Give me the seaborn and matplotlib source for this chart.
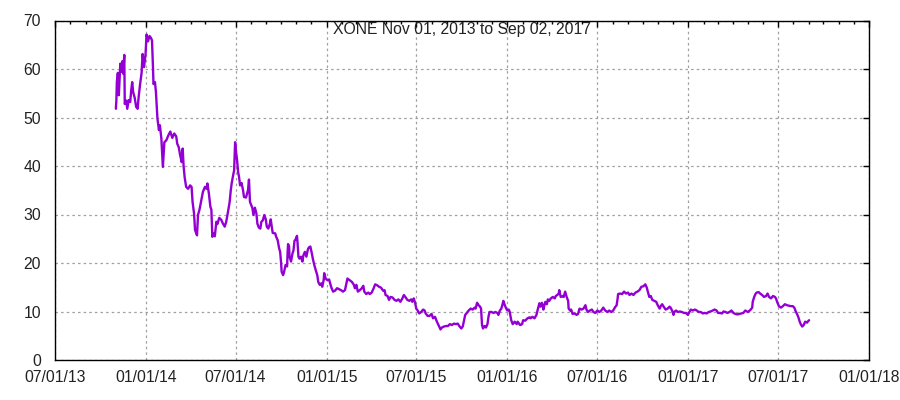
import pandas as pd
import seaborn as sns
import matplotlib.pyplot as plt
import matplotlib.dates as mdates
from matplotlib.ticker import MultipleLocator

# days counted from 07/01/2013 (left edge of the chart) and closing prices
day_offset = [
    123, 124, 125, 127, 129, 132, 134, 136, 138, 140, 141, 144, 146, 149, 152, 154, 156, 158, 161, 164,
    167, 169, 172, 175, 177, 180, 183, 185, 188, 191, 194, 196, 198, 199, 202, 204, 207, 210, 212, 215,
    218, 221, 225, 229, 233, 237, 241, 245, 247, 250, 253, 256, 258, 260, 262, 265, 269, 273, 276, 278,
    281, 283, 287, 289, 292, 295, 299, 303, 306, 308, 311, 314, 316, 318, 320, 323, 326, 328, 332, 336,
    339, 343, 346, 349, 353, 355, 357, 360, 362, 364, 366, 368, 370, 372, 374, 377, 380, 382, 386, 390,
    392, 394,
    399, 401, 404, 407, 409, 412, 415, 417, 420, 423, 426, 428, 431, 434, 436, 438, 440, 445, 447, 450,
    453, 455, 457, 458, 461, 463, 466, 469, 470, 471, 473, 474, 477, 480, 482, 484, 486, 489, 490, 492,
    494, 497, 500, 502, 505, 508, 511, 513, 516, 519, 521, 524, 527, 530, 532, 535, 538, 540, 543, 544,
    547, 550, 554, 556, 559, 562, 566, 570, 574, 578, 582, 586, 589, 591, 595, 600, 604, 606, 609, 612,
    616, 620, 623, 625, 629, 633, 636,
    640, 644, 647, 651, 655, 659, 663, 666, 668, 672, 675, 678, 682, 686, 690, 694, 698, 702, 705, 708,
    712, 716, 720, 722, 725, 728, 730, 733, 736, 740, 744, 747, 749, 753, 757, 761, 764, 768, 771, 774,
    776, 779, 782, 786, 790, 794, 798, 802, 806, 810, 814, 817, 821, 824, 826, 829, 832, 836, 840, 844,
    848, 850, 853, 856, 859, 861, 863, 865, 868, 871, 874, 876, 878, 882, 886, 890, 894, 896, 899, 902,
    905, 906, 909, 911, 914, 917, 919, 922, 925, 929, 933, 935, 940, 944, 946, 950, 955, 959,
    961, 965, 969, 973, 976, 979, 981, 984, 987, 989, 991, 994, 996, 999, 1002, 1006, 1010, 1012, 1015, 1018,
    1019, 1022, 1026, 1028, 1031, 1034, 1037, 1038, 1041, 1043, 1046, 1050, 1054, 1057, 1060, 1064, 1068, 1072, 1074, 1077,
    1081, 1085, 1088, 1092, 1096, 1100, 1104, 1108, 1112, 1116, 1120, 1124, 1128, 1132, 1135, 1137, 1138, 1142, 1146, 1150,
    1154, 1158, 1161, 1165, 1169, 1173, 1177, 1181, 1185, 1189, 1193, 1196, 1198, 1201, 1204, 1207, 1211, 1215, 1218, 1222,
    1224, 1227, 1230, 1234, 1238, 1242, 1244, 1247, 1250, 1251, 1255, 1259, 1263, 1267, 1271, 1275, 1279, 1282, 1285, 1289,
    1293, 1297, 1301,
    1305, 1309, 1313, 1317, 1321, 1325, 1329, 1333, 1337, 1340, 1344, 1348, 1351, 1355, 1359, 1363, 1367, 1371, 1375, 1379,
    1383, 1387, 1391, 1395, 1400, 1404, 1406, 1409, 1410, 1413, 1416, 1418, 1422, 1425, 1429, 1433, 1437, 1440, 1443, 1447,
    1451, 1455, 1457, 1460, 1463, 1467, 1471, 1475, 1479, 1483, 1487, 1491, 1494, 1497, 1499, 1502, 1505, 1507, 1510, 1513,
    1516, 1520, 1521, 1524,
]

close = [
    51.8, 53.5, 57.3, 59.2, 54.6, 61.1, 59.4, 61.6, 59.0, 62.9, 52.8, 53.5, 51.8, 53.6, 53.2, 55.6, 57.3, 55.2, 54.1, 52.2,
    51.8, 54.2, 56.9, 59.2, 63.1, 60.4, 63.1, 67.1, 65.7, 66.8, 66.4, 65.9, 60.4, 56.9, 57.3, 55.2, 49.8, 47.4, 48.4, 45.6,
    39.8, 44.9, 45.3, 46.3, 47.1, 45.8, 46.7, 46.1, 44.6, 43.9, 42.2, 40.8, 43.6, 39.8, 37.7, 35.7, 35.3, 36.0, 35.7, 32.6,
    30.2, 26.8, 25.7, 29.9, 31.0, 32.6, 34.7, 35.7, 35.3, 36.4, 34.3, 31.6, 31.0, 25.4, 26.1, 25.5, 28.5, 28.0, 29.3, 28.9,
    28.2, 27.5, 28.5, 30.2, 32.6, 34.8, 36.4, 38.1, 39.1, 44.9, 42.8, 41.2, 38.8, 37.7, 36.0, 36.5, 35.0, 33.6, 33.5, 35.0,
    37.2, 32.6,
    31.3, 29.9, 31.4, 30.2, 28.1, 27.3, 27.1, 28.5, 28.8, 29.9, 29.0, 27.5, 27.1, 28.0, 29.0, 27.5, 26.2, 26.1, 25.4, 24.7,
    23.0, 22.3, 19.9, 18.2, 17.5, 18.2, 19.6, 19.3, 22.0, 23.9, 23.4, 21.3, 20.3, 22.0, 22.6, 24.6, 24.8, 25.6, 24.4, 21.3,
    20.9, 21.3, 20.3, 21.6, 22.3, 21.3, 22.8, 23.2, 23.4, 22.0, 20.9, 19.6, 18.5, 17.5, 16.1, 15.5, 15.8, 15.1, 16.5, 17.9,
    16.8, 16.5, 16.6, 15.8, 14.8, 14.1, 14.3, 14.8, 14.6, 14.4, 14.1, 14.4, 15.8, 16.8, 16.5, 16.1, 15.5, 14.8, 15.5, 14.1,
    14.4, 14.8, 15.3, 14.1, 13.6, 13.9, 13.6,
    13.9, 14.8, 15.6, 15.4, 15.1, 14.9, 14.3, 14.4, 13.4, 13.2, 12.4, 13.0, 12.9, 12.4, 12.2, 12.5, 12.0, 12.7, 13.4, 13.0,
    12.4, 12.2, 12.5, 12.0, 12.7, 11.7, 10.6, 10.2, 9.6, 9.9, 10.4, 10.2, 9.6, 9.1, 9.1, 9.5, 8.6, 8.9, 8.1, 7.4,
    7.0, 6.3, 6.7, 6.9, 7.0, 7.0, 7.4, 7.2, 7.5, 7.4, 7.5, 7.0, 6.5, 6.9, 7.9, 9.3, 9.7, 10.2, 10.6, 10.4,
    10.8, 10.6, 11.8, 11.3, 11.0, 10.6, 7.2, 6.5, 7.0, 6.7, 7.4, 8.9, 9.9, 9.9, 9.7, 9.9, 9.7, 9.3, 10.2, 10.6,
    11.7, 12.2, 11.3, 10.8, 10.2, 10.4, 9.9, 8.2, 7.4, 7.9, 7.4, 7.9, 7.2, 7.4, 8.2, 8.1, 8.6, 8.8,
    8.6, 8.9, 8.6, 9.3, 10.6, 11.7, 11.0, 11.8, 10.4, 11.3, 12.0, 11.5, 12.5, 12.2, 12.7, 13.0, 12.7, 13.2, 13.4, 13.7,
    14.4, 13.0, 13.2, 13.0, 14.1, 13.0, 12.2, 10.6, 10.2, 10.4, 9.5, 9.6, 9.3, 9.5, 10.6, 10.4, 10.6, 11.3, 10.4, 9.9,
    10.2, 10.4, 9.9, 9.7, 10.2, 9.9, 10.2, 10.8, 10.2, 9.9, 10.2, 9.9, 10.2, 10.9, 11.3, 12.7, 13.6, 13.7, 13.6, 14.1,
    13.7, 13.9, 13.4, 13.7, 13.4, 13.9, 14.1, 14.4, 15.1, 15.2, 15.6, 14.9, 14.1, 13.0, 13.2, 12.4, 12.2, 12.0, 11.3, 10.6,
    11.1, 11.5, 11.0, 10.4, 10.6, 11.0, 10.8, 10.2, 9.3, 9.9, 10.2, 9.9, 10.0, 9.9, 9.7, 9.7, 9.3, 9.9, 10.4, 10.2,
    10.4, 10.2, 9.9,
    9.9, 9.6, 9.7, 9.6, 9.9, 10.0, 10.2, 10.4, 10.2, 9.7, 9.7, 9.6, 10.0, 9.9, 9.7, 9.9, 10.2, 9.7, 9.5, 9.4,
    9.5, 9.6, 9.7, 10.2, 9.9, 10.2, 10.4, 10.8, 12.0, 13.0, 13.7, 13.9, 14.0, 13.7, 13.4, 13.0, 13.2, 13.7, 13.0, 12.7,
    13.2, 13.0, 12.7, 11.8, 11.1, 10.8, 11.1, 11.5, 11.3, 11.2, 11.1, 11.1, 10.8, 10.0, 9.6, 8.9, 7.9, 7.4, 6.9, 7.2,
    7.9, 7.7, 7.9, 8.2,
]

title = "XONE Nov 01, 2013 to Sep 02, 2017"
x_start = "2013-07-01"
x_end = "2018-01-01"

dates = pd.Timestamp(x_start) + pd.to_timedelta(day_offset, unit="D")
df = pd.DataFrame({"date": dates, "close": close})

sns.set_style("white")
plt.rcParams["font.family"] = ["Liberation Sans", "DejaVu Sans"]

fig = plt.figure(figsize=(9, 4), dpi=100)
ax = fig.add_axes([55 / 900, 40 / 400, (869 - 55) / 900, (360 - 20.5) / 400])

sns.lineplot(data=df, x="date", y="close", ax=ax, color="#9400d3", linewidth=1.7)

ax.set_xlim(pd.Timestamp(x_start), pd.Timestamp(x_end))
ax.set_ylim(0, 70)
ax.yaxis.set_major_locator(MultipleLocator(10))
ax.xaxis.set_major_locator(mdates.MonthLocator(bymonth=[1, 7]))
ax.xaxis.set_minor_locator(mdates.MonthLocator())
ax.xaxis.set_major_formatter(mdates.DateFormatter("%m/%d/%y"))
ax.set_xlabel("")
ax.set_ylabel("")

ax.grid(True, which="major", color="#a0a0a0", linestyle=(0, (2, 2.5)), linewidth=0.9)
for s in ax.spines.values():
    s.set_color("black")
    s.set_linewidth(1)
    s.set_visible(True)

ax.tick_params(which="both", direction="in", top=True, right=True, color="black", labelsize=11.3,
               labelcolor="#222222")
ax.tick_params(which="major", length=4, width=1)
ax.tick_params(which="minor", length=2.5, width=1)
ax.tick_params(axis="y", pad=10)
ax.tick_params(axis="x", pad=7)

ax.text(0.5, 0.995, title, transform=ax.transAxes, ha="center", va="top", fontsize=11.3, color="#222222")

fig.savefig("out.png", dpi=100)
